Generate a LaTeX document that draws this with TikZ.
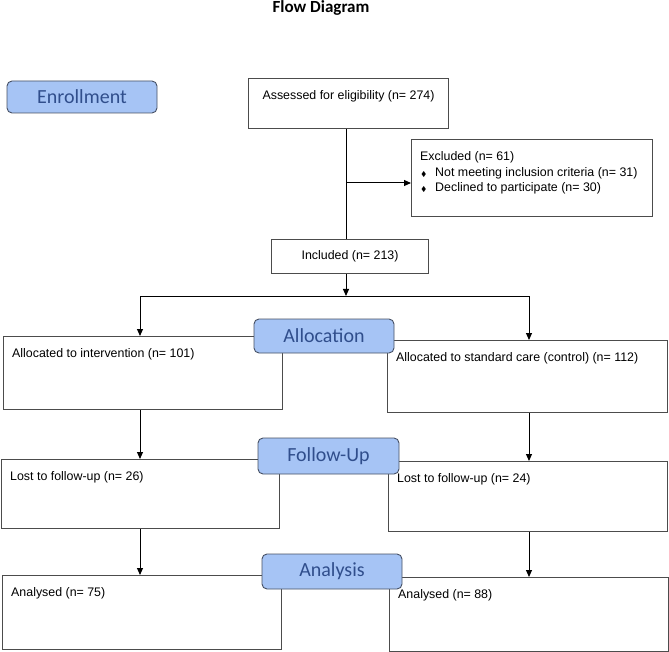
\documentclass[tikz,border=0pt]{standalone}
\usepackage{fontspec}
\usepackage{amssymb}
\usepackage{tikz}
\usetikzlibrary{arrows.meta}
\setmainfont{Liberation Sans}
\newfontfamily\stagefont{Carlito}
\definecolor{stagefill}{RGB}{166,196,245}
\definecolor{stageline}{RGB}{70,80,100}
\definecolor{stagetext}{RGB}{48,78,140}
\newcommand{\bul}{\makebox[15pt][l]{\hspace*{1pt}\fontsize{7}{7}\selectfont$\blacklozenge$}}

\begin{document}
\begin{tikzpicture}[x=1pt, y=-1pt,
  box/.style={draw=black!70, line width=1.1pt, fill=white, anchor=north west, inner sep=0pt},
  stage/.style={draw=stageline, fill=stagefill, line width=0.9pt, rounded corners=5pt, inner sep=0pt,
    font=\stagefont\fontsize{20}{20}\selectfont, text=stagetext},
  boxtext/.style={anchor=north west, inner sep=0pt, xshift=9pt, yshift=-12.5pt, align=left,
    font=\fontsize{12.4}{15.5}\selectfont},
  toptext/.style={anchor=north, inner sep=0pt, yshift=-12.5pt, font=\fontsize{12.4}{15.5}\selectfont},
  link/.style={draw=black, line width=1pt},
  arr/.style={link, -{Triangle[length=7pt, width=6pt]}},
  ]
  \useasboundingbox (0,0) rectangle (669,652);
  \node[font=\stagefont\bfseries\fontsize{17}{17}\selectfont] (title) at (321,8) {Flow Diagram};

  \node[box, minimum width=200pt, minimum height=50pt, label={[toptext]north:{Assessed for eligibility (n= 274)}}] (assess) at (248,78) {};
  \node[box, minimum width=241pt, minimum height=77pt, label={[boxtext]north west:{Excluded (n= 61)\\\bul Not meeting inclusion criteria (n= 31)\\\bul Declined to participate (n= 30)}}] (excl) at (411,139) {};
  \node[box, minimum width=157pt, minimum height=34pt, font=\fontsize{12.4}{15.5}\selectfont] (incl) at (271,239) {Included (n= 213)};

  \node[box, minimum width=279pt, minimum height=73pt, label={[boxtext]north west:{Allocated to intervention (n= 101)}}] (allocL) at (3,336) {};
  \node[box, minimum width=280pt, minimum height=72pt, label={[boxtext]north west:{Allocated to standard care (control) (n= 112)}}] (allocR) at (387,340) {};
  \node[box, minimum width=278pt, minimum height=69pt, label={[boxtext]north west:{Lost to follow-up (n= 26)}}] (lostL) at (1,459) {};
  \node[box, minimum width=279pt, minimum height=70pt, label={[boxtext]north west:{Lost to follow-up (n= 24)}}] (lostR) at (388,461) {};
  \node[box, minimum width=279pt, minimum height=74pt, label={[boxtext]north west:{Analysed (n= 75)}}] (anaL) at (2,575) {};
  \node[box, minimum width=279pt, minimum height=74pt, label={[boxtext]north west:{Analysed (n= 88)}}] (anaR) at (389,577) {};

  \coordinate (split) at (346,296);
  \coordinate (branch) at (346,183);
  \coordinate (colL) at (140,0);
  \coordinate (colR) at (529,0);

  \draw[link] (assess.south -| split) -- (incl.north -| split);
  \draw[arr] (branch) -- (branch -| excl.west);
  \draw[arr] (incl.south -| split) -- (split);
  \draw[arr] (split) -| (colL |- allocL.north);
  \draw[arr] (split) -| (colR |- allocR.north);
  \draw[arr] (allocL.south -| colL) -- (lostL.north -| colL);
  \draw[arr] (allocR.south -| colR) -- (lostR.north -| colR);
  \draw[arr] (lostL.south -| colL) -- (anaL.north -| colL);
  \draw[arr] (lostR.south -| colR) -- (anaR.north -| colR);

  \node[stage, minimum width=150pt, minimum height=32pt] (enrol) at (82,97) {Enrollment};
  \node[stage, minimum width=140pt, minimum height=34pt] (alloc) at (324,336) {Allocation};
  \node[stage, minimum width=141pt, minimum height=36pt] (follow) at (328.5,456) {Follow-Up};
  \node[stage, minimum width=140pt, minimum height=35pt] (anal) at (332,571.5) {Analysis};
\end{tikzpicture}
\end{document}
